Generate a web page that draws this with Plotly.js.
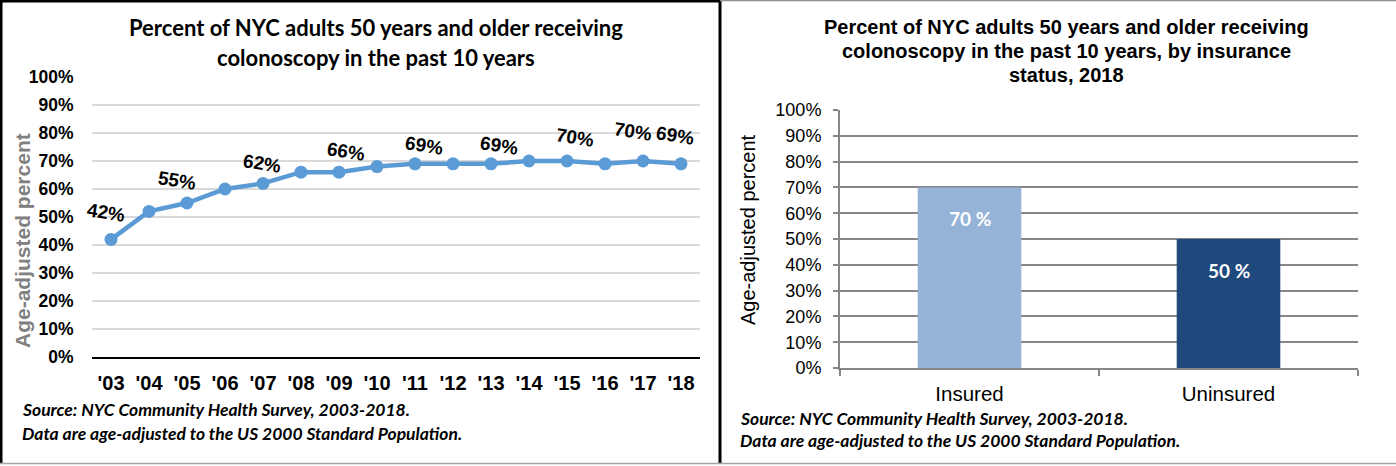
<!DOCTYPE html>
<html>
<head>
<meta charset="utf-8">
<script src="https://cdn.plot.ly/plotly-3.0.1.min.js"></script>
<style>
  html, body { margin: 0; padding: 0; background: #ffffff; }
  #chart { width: 1396px; height: 466px; }
</style>
</head>
<body>
<div id="chart"></div>
<script>
// ---- data ----
const years = ["'03","'04","'05","'06","'07","'08","'09","'10","'11","'12","'13","'14","'15","'16","'17","'18"];
const pctByYear = [42, 52, 55, 60, 62, 66, 66, 68, 69, 69, 69, 70, 70, 69, 70, 69];
const labeledYears = ["'03","'05","'07","'09","'11","'13","'15","'17","'18"];
const insuranceGroups = ["Insured", "Uninsured"];
const pctByInsurance = [70, 50];
const yTickVals = [0,10,20,30,40,50,60,70,80,90,100];
const yTickText = yTickVals.map(v => v + '%');

const leftTitle = ["Percent of NYC adults 50 years and older receiving", "colonoscopy in the past 10 years"];
const rightTitle = ["Percent of NYC adults 50 years and older receiving", "colonoscopy in the past 10 years, by insurance", "status, 2018"];
const sourceLines = ["Source: NYC Community Health Survey, 2003-2018.", "Data are age-adjusted to the US 2000 Standard Population."];
const yTitleText = "Age-adjusted percent";

// ---- style / layout helpers ----
const W = 1396, H = 466;
const px = x => x / W;
const py = y => 1 - y / H;

// pixel offsets for the tilted data labels (style only)
const labelShift = {
  "'03": [-5, 27], "'05": [-10, 23], "'07": [-1, 20], "'09": [7, 21], "'11": [9, 18],
  "'13": [8, 18], "'15": [8, 24], "'17": [-10, 30], "'18": [-6, 28]
};

const lineTrace = {
  type: 'scatter', mode: 'lines+markers',
  x: years, y: pctByYear, xaxis: 'x', yaxis: 'y',
  line: { color: '#5b9bd5', width: 4.5 },
  marker: { color: '#5b9bd5', size: 13 },
  hoverinfo: 'skip', showlegend: false
};

const barTrace = {
  type: 'bar', x: insuranceGroups, y: pctByInsurance, xaxis: 'x2', yaxis: 'y2',
  marker: { color: ['#95b3d7', '#1f497d'], line: { width: 0 } },
  hoverinfo: 'skip', showlegend: false
};

const annotations = [];
leftTitle.forEach((t, i) => annotations.push({
  xref: 'paper', yref: 'paper', x: px(376), y: py(28 + i * 29),
  text: '<b>' + t + '</b>', showarrow: false, xanchor: 'center', yanchor: 'middle',
  font: { family: 'Lato, Liberation Sans, sans-serif', size: 22, color: '#000000' }
}));
rightTitle.forEach((t, i) => annotations.push({
  xref: 'paper', yref: 'paper', x: px(1066), y: py(27 + i * 24),
  text: '<b>' + t + '</b>', showarrow: false, xanchor: 'center', yanchor: 'middle',
  font: { family: 'Liberation Sans, Arial, sans-serif', size: 20, color: '#000000' }
}));
sourceLines.forEach((t, i) => annotations.push({
  xref: 'paper', yref: 'paper', x: px(20), y: py(409 + i * 24),
  text: '<b><i>' + t + '</i></b>', showarrow: false, xanchor: 'left', yanchor: 'middle',
  font: { family: 'Lato, sans-serif', size: 17.5, color: '#000000' }
}));
sourceLines.forEach((t, i) => annotations.push({
  xref: 'paper', yref: 'paper', x: px(738), y: py(418 + i * 22),
  text: '<b><i>' + t + '</i></b>', showarrow: false, xanchor: 'left', yanchor: 'middle',
  font: { family: 'Lato, sans-serif', size: 17.5, color: '#000000' }
}));
// y-axis titles
annotations.push({
  xref: 'paper', yref: 'paper', x: px(22), y: py(241), textangle: -90,
  text: '<b>' + yTitleText + '</b>', showarrow: false, xanchor: 'center', yanchor: 'middle',
  font: { family: 'Liberation Sans, Arial, sans-serif', size: 21, color: '#808080' }
});
annotations.push({
  xref: 'paper', yref: 'paper', x: px(748), y: py(230), textangle: -90,
  text: yTitleText, showarrow: false, xanchor: 'center', yanchor: 'middle',
  font: { family: 'Liberation Sans, Arial, sans-serif', size: 20, color: '#000000' }
});
// line data labels
years.forEach((yr, i) => {
  if (labeledYears.indexOf(yr) < 0) return;
  const s = labelShift[yr];
  annotations.push({
    xref: 'x', yref: 'y', x: yr, y: pctByYear[i], xshift: s[0], yshift: s[1],
    text: '<b>' + pctByYear[i] + '%</b>', showarrow: false, textangle: 9,
    xanchor: 'center', yanchor: 'middle',
    font: { family: 'Liberation Sans, Arial, sans-serif', size: 19, color: '#000000' }
  });
});
// bar data labels
insuranceGroups.forEach((g, i) => annotations.push({
  xref: 'x2', yref: 'y2', x: g, y: pctByInsurance[i], yshift: -31,
  text: '<b>' + pctByInsurance[i] + ' %</b>', showarrow: false,
  xanchor: 'center', yanchor: 'middle',
  font: { family: 'Lato, sans-serif', size: 19, color: '#ffffff' }
}));

const shapes = [
  { type: 'line', xref: 'paper', yref: 'paper', x0: px(1), x1: px(1), y0: py(0), y1: py(464), line: { color: '#000000', width: 3 } },
  { type: 'line', xref: 'paper', yref: 'paper', x0: px(0), x1: px(720), y0: py(1), y1: py(1), line: { color: '#000000', width: 3 } },
  { type: 'line', xref: 'paper', yref: 'paper', x0: px(720), x1: px(720), y0: py(0), y1: py(464), line: { color: '#000000', width: 3 } },
  { type: 'line', xref: 'paper', yref: 'paper', x0: px(720), x1: px(1396), y0: py(0.5), y1: py(0.5), line: { color: '#909090', width: 1.5 } },
  { type: 'line', xref: 'paper', yref: 'paper', x0: px(0), x1: px(1396), y0: py(463.5), y1: py(463.5), line: { color: '#a6a6a6', width: 1.5 } }
];

const layout = {
  width: W, height: H, autosize: false,
  margin: { l: 0, r: 0, t: 0, b: 0, pad: 0 },
  paper_bgcolor: '#ffffff', plot_bgcolor: 'rgba(0,0,0,0)',
  showlegend: false,
  bargap: 0.6,
  xaxis: {
    domain: [px(92), px(700)], anchor: 'y', type: 'category', range: [-0.5, 15.5],
    showgrid: false, zeroline: false, showline: true, linecolor: '#000000', linewidth: 2,
    ticks: 'outside', ticklen: 7, tickcolor: 'rgba(0,0,0,0)',
    tickfont: { family: 'Liberation Sans, Arial, sans-serif', size: 20, color: '#000000', weight: 'bold' },
    fixedrange: true
  },
  yaxis: {
    domain: [py(357), py(77)], anchor: 'x', range: [0, 100],
    tickmode: 'array', tickvals: yTickVals, ticktext: yTickText,
    showgrid: true, gridcolor: '#d9d9d9', gridwidth: 2, zeroline: false, showline: false,
    ticks: 'outside', ticklen: 14, tickcolor: 'rgba(0,0,0,0)',
    tickfont: { family: 'Liberation Sans, Arial, sans-serif', size: 17.5, color: '#000000', weight: 'bold' },
    fixedrange: true
  },
  xaxis2: {
    domain: [px(840), px(1358)], anchor: 'y2', type: 'category', range: [-0.5, 1.5],
    showgrid: false, zeroline: false, showline: true, linecolor: '#868686', linewidth: 2,
    ticks: 'outside', tickson: 'boundaries', ticklen: 6, tickcolor: '#868686', tickwidth: 2,
    ticklabelstandoff: 6,
    tickfont: { family: 'Liberation Sans, Arial, sans-serif', size: 20.5, color: '#000000' },
    fixedrange: true
  },
  yaxis2: {
    domain: [py(368), py(110)], anchor: 'x2', range: [0, 100],
    tickmode: 'array', tickvals: yTickVals, ticktext: yTickText,
    showgrid: true, gridcolor: '#868686', gridwidth: 2, zeroline: false,
    showline: true, linecolor: '#868686', linewidth: 2,
    ticks: 'outside', ticklen: 5, tickcolor: '#868686', tickwidth: 2,
    ticklabelstandoff: 8,
    tickfont: { family: 'Liberation Sans, Arial, sans-serif', size: 18, color: '#000000' },
    fixedrange: true
  },
  annotations: annotations,
  shapes: shapes
};

Plotly.newPlot('chart', [barTrace, lineTrace], layout, { staticPlot: true, displayModeBar: false });
</script>
</body>
</html>
